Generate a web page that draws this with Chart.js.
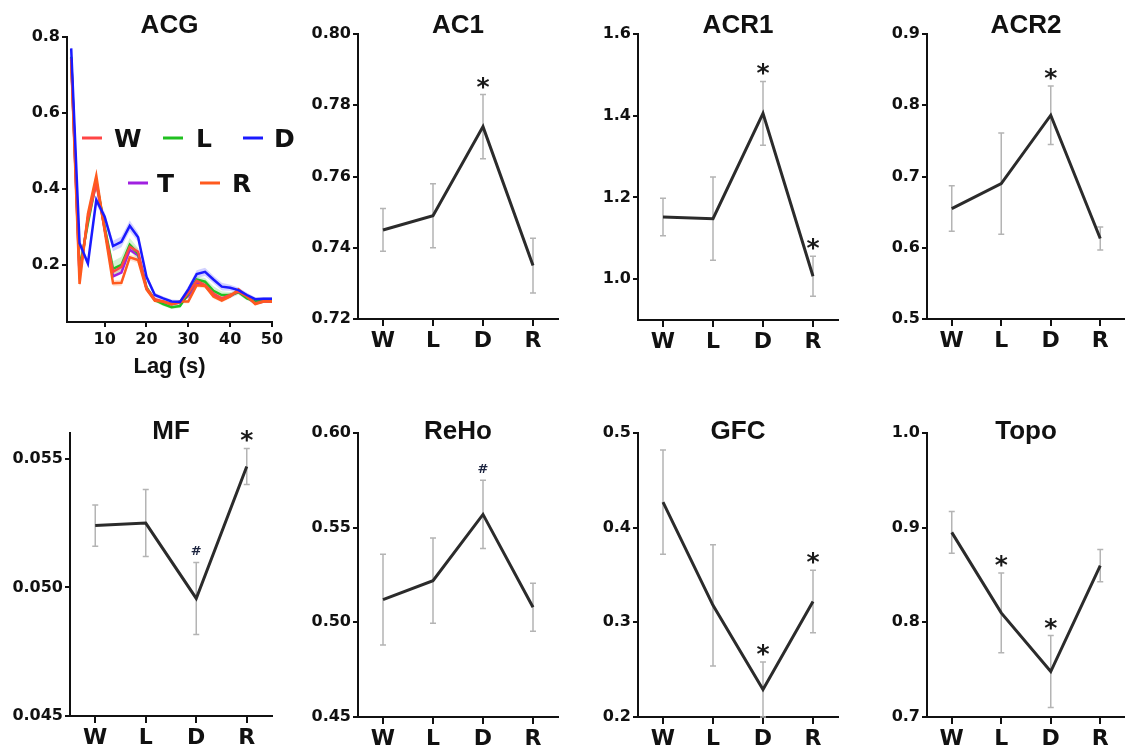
<!DOCTYPE html>
<html><head><meta charset="utf-8">
<script src="https://cdn.jsdelivr.net/npm/chart.js@4.4.1/dist/chart.umd.min.js"></script>
<style>
html,body{margin:0;padding:0;background:#fff;width:1125px;height:753px;overflow:hidden;position:relative;}
.p{position:absolute;}
</style></head><body>
<script>
// ---------------- DATA ----------------
const groups = ['W','L','D','R'];

// ACG panel (autocorrelation vs lag)
const lags = [2,4,6,8,10,12,14,16,18,20,22,24,26,28,30,32,34,36,38,40,42,44,46,48,50];
const acgW = [0.744,0.175,0.32,0.415,0.295,0.182,0.195,0.248,0.235,0.139,0.110,0.104,0.097,0.101,0.127,0.158,0.147,0.125,0.112,0.121,0.130,0.117,0.099,0.105,0.104];
const acgL = [0.748,0.19,0.31,0.42,0.30,0.19,0.20,0.253,0.23,0.141,0.108,0.097,0.089,0.092,0.125,0.162,0.156,0.132,0.121,0.121,0.128,0.112,0.104,0.108,0.108];
const acgD = [0.770,0.257,0.204,0.371,0.327,0.25,0.261,0.303,0.273,0.169,0.121,0.112,0.104,0.103,0.136,0.176,0.182,0.162,0.143,0.140,0.134,0.121,0.110,0.111,0.111];
const acgT = [0.745,0.17,0.325,0.42,0.295,0.17,0.18,0.24,0.225,0.138,0.108,0.102,0.097,0.102,0.118,0.152,0.146,0.12,0.108,0.118,0.13,0.116,0.099,0.104,0.104];
const acgR = [0.740,0.15,0.335,0.435,0.29,0.152,0.153,0.22,0.213,0.136,0.106,0.104,0.097,0.104,0.104,0.147,0.145,0.117,0.106,0.117,0.136,0.118,0.097,0.104,0.104];
const semW = [0.006,0.010,0.010,0.010,0.010,0.010,0.010,0.010,0.008,0.006,0.004,0.004,0.004,0.004,0.005,0.006,0.006,0.006,0.006,0.006,0.005,0.004,0.004,0.004,0.004];
const semL = [0.006,0.012,0.012,0.012,0.014,0.020,0.022,0.018,0.014,0.008,0.005,0.005,0.005,0.005,0.006,0.008,0.010,0.012,0.010,0.008,0.006,0.005,0.005,0.005,0.005];
const semD = [0.012,0.010,0.010,0.012,0.012,0.014,0.014,0.014,0.012,0.008,0.006,0.005,0.005,0.005,0.008,0.010,0.011,0.010,0.010,0.008,0.007,0.006,0.005,0.005,0.005];
const semR = [0.006,0.008,0.010,0.010,0.010,0.008,0.008,0.008,0.008,0.006,0.004,0.004,0.004,0.004,0.005,0.006,0.006,0.006,0.005,0.005,0.005,0.004,0.004,0.004,0.004];
const acgYTicks = ['0.2','0.4','0.6','0.8'];
const acgXTicks = ['10','20','30','40','50'];

// AC1
const ac1Mean = [0.745,0.749,0.774,0.735];
const ac1Err  = [0.006,0.009,0.009,0.0077];
const ac1Marks = ['','','*',''];
const ac1Ticks = ['0.72','0.74','0.76','0.78','0.80'];

// ACR1
const acr1Mean = [1.152,1.148,1.406,1.007];
const acr1Err  = [0.046,0.102,0.078,0.049];
const acr1Marks = ['','','*','*'];
const acr1Ticks = ['1.0','1.2','1.4','1.6'];

// ACR2
const acr2Mean = [0.655,0.690,0.786,0.613];
const acr2Err  = [0.032,0.071,0.041,0.016];
const acr2Marks = ['','','*',''];
const acr2Ticks = ['0.5','0.6','0.7','0.8','0.9'];

// MF
const mfMean = [0.0524,0.0525,0.04957,0.0547];
const mfErr  = [0.0008,0.0013,0.0014,0.0007];
const mfMarks = ['','','#','*'];
const mfTicks = ['0.045','0.050','0.055'];

// ReHo
const rehoMean = [0.512,0.522,0.557,0.508];
const rehoErr  = [0.024,0.0225,0.018,0.0127];
const rehoMarks = ['','','#',''];
const rehoTicks = ['0.45','0.50','0.55','0.60'];

// GFC
const gfcMean = [0.427,0.318,0.229,0.322];
const gfcErr  = [0.055,0.064,0.029,0.033];
const gfcMarks = ['','','*','*'];
const gfcTicks = ['0.2','0.3','0.4','0.5'];

// Topo
const topoMean = [0.895,0.810,0.748,0.860];
const topoErr  = [0.022,0.042,0.038,0.017];
const topoMarks = ['','*','*',''];
const topoTicks = ['0.7','0.8','0.9','1.0'];

// ---------------- PLUGINS ----------------
const INK = '#111';
const titlePlugin = {
  id: 'panelTitle',
  afterDraw(chart, args, opts) {
    if (!opts || !opts.text) return;
    const ctx = chart.ctx, a = chart.chartArea;
    ctx.save();
    ctx.font = 'bold 26px "Liberation Sans", Arial, sans-serif';
    ctx.fillStyle = INK;
    ctx.textAlign = 'center';
    ctx.textBaseline = 'alphabetic';
    ctx.fillText(opts.text, (a.left + a.right) / 2, opts.y + 26 * 0.716 / 2);
    ctx.restore();
  }
};

const errPlugin = {
  id: 'errbars',
  beforeDatasetsDraw(chart) {
    const ds = chart.data.datasets[0];
    if (!ds.errors) return;
    const meta = chart.getDatasetMeta(0), ys = chart.scales.y, ctx = chart.ctx;
    ctx.save();
    ctx.strokeStyle = '#b4b4b4';
    ctx.lineWidth = 1.5;
    meta.data.forEach((pt, i) => {
      const m = ds.data[i], e = ds.errors[i];
      const yt = ys.getPixelForValue(m + e);
      const yb = ys.getPixelForValue(Math.max(m - e, ys.min));
      ctx.beginPath();
      ctx.moveTo(pt.x, yt); ctx.lineTo(pt.x, yb);
      ctx.moveTo(pt.x - 3, yt); ctx.lineTo(pt.x + 3, yt);
      ctx.moveTo(pt.x - 3, yb); ctx.lineTo(pt.x + 3, yb);
      ctx.stroke();
    });
    ctx.restore();
  },
  afterDatasetsDraw(chart) {
    const ds = chart.data.datasets[0];
    if (!ds.marks) return;
    const meta = chart.getDatasetMeta(0), ys = chart.scales.y, ctx = chart.ctx;
    ctx.save();
    ctx.textAlign = 'center';
    ctx.textBaseline = 'alphabetic';
    meta.data.forEach((pt, i) => {
      const mk = ds.marks[i];
      if (!mk) return;
      const cy = ys.getPixelForValue(ds.data[i] + ds.errors[i]) - 12;
      if (mk === '*') { ctx.font = 'bold 25px "DejaVu Sans", sans-serif'; ctx.fillStyle = '#1a1a1a'; }
      else { ctx.font = 'bold 13px "DejaVu Sans", sans-serif'; ctx.fillStyle = '#1d2540'; }
      const mt = ctx.measureText(mk);
      const off = (mt.actualBoundingBoxAscent - mt.actualBoundingBoxDescent) / 2;
      ctx.fillText(mk, pt.x, cy + off);
    });
    ctx.restore();
  }
};

const legendPlugin = {
  id: 'inlineLegend',
  afterDraw(chart, args, opts) {
    if (!opts || !opts.items) return;
    const ctx = chart.ctx;
    ctx.save();
    ctx.font = 'bold 25px "DejaVu Sans", sans-serif';
    ctx.textAlign = 'left';
    ctx.textBaseline = 'alphabetic';
    opts.items.forEach(it => {
      const ds = chart.data.datasets.find(d => d.label === it.label);
      ctx.strokeStyle = ds.borderColor;
      ctx.lineWidth = 3;
      ctx.beginPath(); ctx.moveTo(it.x, it.y); ctx.lineTo(it.x + 20, it.y); ctx.stroke();
      ctx.fillStyle = INK;
      ctx.fillText(it.label, it.tx, it.y + 25 * 0.729 / 2);
    });
    ctx.restore();
  }
};

// ---------------- HELPERS ----------------
function mkCanvas(box) {
  const div = document.createElement('div');
  div.className = 'p';
  div.style.left = box[0] + 'px'; div.style.top = box[1] + 'px';
  div.style.width = box[2] + 'px'; div.style.height = box[3] + 'px';
  const cv = document.createElement('canvas');
  div.appendChild(cv);
  document.body.appendChild(div);
  return cv;
}

function yAxis(min, max, ticks, width, fontSize) {
  return {
    type: 'linear', min: min, max: max,
    afterFit: s => { s.width = width; },
    afterBuildTicks: s => { s.ticks = ticks.map(t => ({ value: parseFloat(t) })); },
    border: { display: true, color: INK, width: 2 },
    grid: { drawOnChartArea: false, drawTicks: true, tickLength: 5, color: INK, lineWidth: 2 },
    ticks: { color: INK, padding: 2, font: { family: 'DejaVu Sans', weight: 'bold', size: fontSize },
             callback: (v, i) => ticks[i] }
  };
}

function catPanel(p) {
  const [bl, bt, bw, bh] = p.box;
  const [al, at, ar, ab] = p.area;
  const cv = mkCanvas(p.box);
  new Chart(cv, {
    type: 'line',
    data: { labels: groups, datasets: [{
      data: p.mean, errors: p.err, marks: p.marks,
      borderColor: '#2b2b2b', borderWidth: 3, pointRadius: 0, tension: 0, fill: false, clip: false
    }]},
    options: {
      responsive: true, maintainAspectRatio: false, animation: false, events: [],
      layout: { padding: { left: 0, top: at - bt, right: bl + bw - ar, bottom: 0 } },
      plugins: { legend: { display: false }, tooltip: { enabled: false },
                 panelTitle: { text: p.title, y: p.titleY - bt } },
      scales: {
        x: { type: 'category', offset: true,
             afterFit: s => { s.height = bt + bh - ab; },
             border: { display: true, color: INK, width: 2 },
             grid: { drawOnChartArea: false, drawTicks: true, tickLength: 7, color: INK, lineWidth: 2 },
             ticks: { color: INK, padding: 2, font: { family: 'DejaVu Sans', weight: 'bold', size: 22 } } },
        y: yAxis(p.min, p.max, p.ticks, al - bl, 16)
      }
    },
    plugins: [errPlugin, titlePlugin]
  });
}

// ---------------- ACG ----------------
(function () {
  const box = [0, 0, 300, 380], area = [67, 37, 272, 322];
  const cv = mkCanvas(box);
  const pts = arr => lags.map((l, i) => ({ x: l, y: arr[i] }));
  const hi = (arr, s) => lags.map((l, i) => ({ x: l, y: arr[i] + s[i] }));
  const lo = (arr, s) => lags.map((l, i) => ({ x: l, y: arr[i] - s[i] }));
  const line = (label, arr, color, order) => ({ label, data: pts(arr), borderColor: color, borderWidth: 2.5,
    pointRadius: 0, tension: 0, fill: false, order });
  const band = (arr, s, color, order) => ([
    { label: '_hi', data: hi(arr, s), borderWidth: 0, pointRadius: 0, tension: 0, backgroundColor: color, fill: '+1', order },
    { label: '_lo', data: lo(arr, s), borderWidth: 0, pointRadius: 0, tension: 0, fill: false, order }
  ]);
  const datasets = [
    line('D', acgD, '#1a1aff', 1),
    line('R', acgR, '#ff5a1e', 2),
    line('W', acgW, '#ff4545', 3),
    line('L', acgL, '#20c020', 4),
    line('T', acgT, '#a020e0', 5),
    ...band(acgD, semD, 'rgba(90,90,255,0.28)', 10),
    ...band(acgL, semL, 'rgba(60,200,60,0.22)', 11),
    ...band(acgW, semW, 'rgba(255,90,90,0.22)', 12),
    ...band(acgR, semR, 'rgba(255,130,60,0.22)', 13)
  ];
  new Chart(cv, {
    type: 'line',
    data: { datasets },
    options: {
      responsive: true, maintainAspectRatio: false, animation: false, events: [],
      layout: { padding: { left: 0, top: area[1] - box[1], right: box[0] + box[2] - area[2], bottom: 0 } },
      plugins: {
        legend: { display: false }, tooltip: { enabled: false },
        panelTitle: { text: 'ACG', y: 24 },
        inlineLegend: { items: [
          { label: 'W', x: 82, y: 138, tx: 114 },
          { label: 'L', x: 163, y: 138, tx: 196 },
          { label: 'D', x: 243, y: 138, tx: 274 },
          { label: 'T', x: 128, y: 183, tx: 157 },
          { label: 'R', x: 200, y: 183, tx: 232 }
        ]}
      },
      scales: {
        x: { type: 'linear', min: 1, max: 50,
             afterFit: s => { s.height = box[1] + box[3] - area[3]; },
             afterBuildTicks: s => { s.ticks = acgXTicks.map(t => ({ value: parseFloat(t) })); },
             border: { display: true, color: INK, width: 2 },
             grid: { drawOnChartArea: false, drawTicks: true, tickLength: 5, color: INK, lineWidth: 2 },
             ticks: { color: INK, padding: 3, font: { family: 'DejaVu Sans', weight: 'bold', size: 16 },
                      callback: (v, i) => acgXTicks[i] },
             title: { display: true, text: 'Lag (s)', color: INK, padding: { top: 0, bottom: 0 },
                      font: { family: 'Liberation Sans', weight: 'bold', size: 22 } } },
        y: yAxis(0.05, 0.8, acgYTicks, area[0] - box[0], 16)
      }
    },
    plugins: [titlePlugin, legendPlugin]
  });
})();

// ---------------- CATEGORY PANELS ----------------
const panels = [
  { title: 'AC1',  mean: ac1Mean,  err: ac1Err,  marks: ac1Marks,  ticks: ac1Ticks,  min: 0.72,  max: 0.80,  box: [300, 0, 270, 380],  area: [358, 34, 558, 319], titleY: 24 },
  { title: 'ACR1', mean: acr1Mean, err: acr1Err, marks: acr1Marks, ticks: acr1Ticks, min: 0.9,   max: 1.6,   box: [570, 0, 280, 380],  area: [638, 34, 838, 320], titleY: 24 },
  { title: 'ACR2', mean: acr2Mean, err: acr2Err, marks: acr2Marks, ticks: acr2Ticks, min: 0.5,   max: 0.9,   box: [850, 0, 275, 380],  area: [927, 34, 1125, 319], titleY: 24 },
  { title: 'MF',   mean: mfMean,   err: mfErr,   marks: mfMarks,   ticks: mfTicks,   min: 0.045, max: 0.056, box: [0, 390, 290, 363],  area: [70, 433, 272, 716], titleY: 430 },
  { title: 'ReHo', mean: rehoMean, err: rehoErr, marks: rehoMarks, ticks: rehoTicks, min: 0.45,  max: 0.60,  box: [290, 390, 280, 363], area: [358, 433, 558, 717], titleY: 430 },
  { title: 'GFC',  mean: gfcMean,  err: gfcErr,  marks: gfcMarks,  ticks: gfcTicks,  min: 0.2,   max: 0.5,   box: [570, 390, 280, 363], area: [638, 433, 838, 717], titleY: 430 },
  { title: 'Topo', mean: topoMean, err: topoErr, marks: topoMarks, ticks: topoTicks, min: 0.7,   max: 1.0,   box: [850, 390, 275, 363], area: [927, 433, 1125, 717], titleY: 430 }
];
panels.forEach(catPanel);
</script>
</body></html>
